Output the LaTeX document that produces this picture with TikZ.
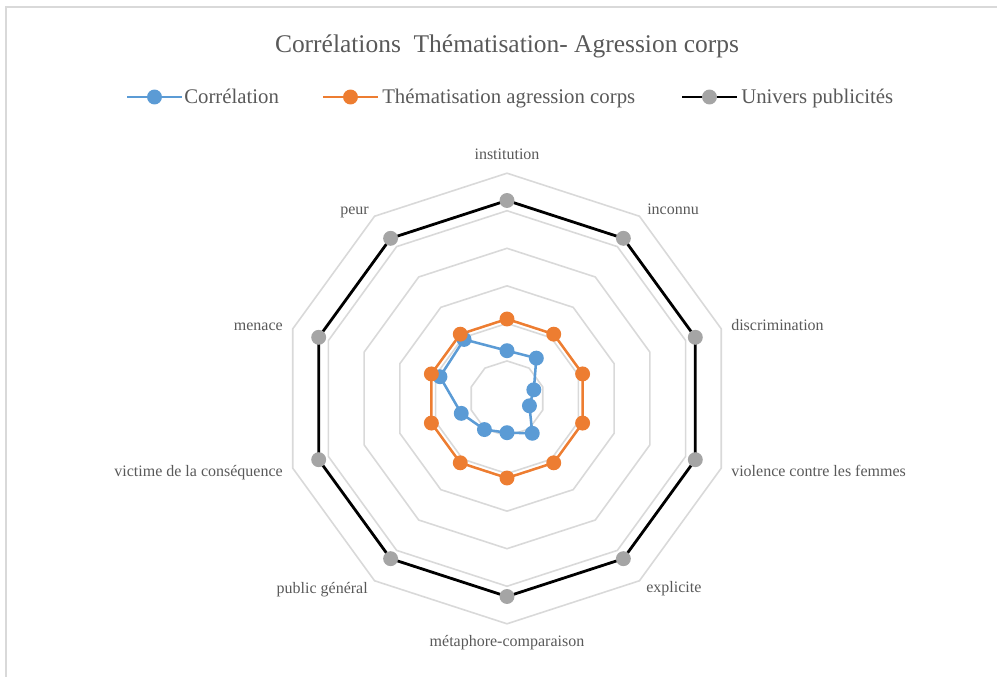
\documentclass[tikz,border=0pt]{standalone}
\usepackage{fontspec}
\setmainfont{Liberation Serif}
\usetikzlibrary{backgrounds}
\definecolor{txt}{HTML}{595959}
\definecolor{gridc}{HTML}{D9D9D9}
\definecolor{serA}{HTML}{5B9BD5}
\definecolor{serB}{HTML}{ED7D31}
\definecolor{serC}{HTML}{A5A5A5}
\begin{document}
\begin{tikzpicture}[x=0.75pt,y=-0.75pt,
  gridline/.style={draw=gridc,line width=1.2pt},
  mk/.style={circle,inner sep=0pt,minimum size=11.2pt},
  lineA/.style={draw=serA,line width=1.9pt,line join=round},
  lineB/.style={draw=serB,line width=1.9pt,line join=round},
  lineC/.style={draw=black,line width=2.1pt,line join=round},
  axlabel/.style={text=txt,font=\fontsize{12}{14}\selectfont,inner sep=0pt},
  legtext/.style={text=txt,font=\fontsize{15.6}{18}\selectfont,inner sep=0pt,anchor=base west}]
\useasboundingbox (0,0) rectangle (997,677);
\def\cx{507}\def\cy{398.5}
% frame
\draw[gridc,line width=1.5pt] (6,677) -- (6,7) -- (997,7);
% title
\node[text=txt,font=\fontsize{19.1}{22}\selectfont,inner sep=0pt,anchor=base] (title) at (507,52.5) {Corrélations\ \ Thématisation- Agression corps};
% legend
\coordinate (la1) at (127,97); \coordinate (la2) at (182,97);
\coordinate (lb1) at (323,97); \coordinate (lb2) at (378,97);
\coordinate (lc1) at (682,97); \coordinate (lc2) at (737,97);
\draw[lineA] (la1) -- (la2);
\draw[lineB] (lb1) -- (lb2);
\draw[lineC] (lc1) -- (lc2);
\node[mk,fill=serA] (lma) at (154.5,97) {};
\node[mk,fill=serB] (lmb) at (350.5,97) {};
\node[mk,fill=serC] (lmc) at (709.5,97) {};
\node[legtext] (lta) at (184,103.5) {Corrélation};
\node[legtext] (ltb) at (382,103.5) {Thématisation agression corps};
\node[legtext] (ltc) at (741,103.5) {Univers publicités};
% grid rings
\begin{scope}[on background layer]
\foreach \i in {1,...,6}{
  \draw[gridline] ({\cx},{\cy-37.55*\i}) \foreach \k in {1,...,9}{ -- ({\cx+37.55*\i*sin(36*\k)},{\cy-37.55*\i*cos(36*\k)})} -- cycle;
}
\end{scope}
% series markers
\foreach \r [count=\k from 0] in {47.8,49.9,28.2,23.6,43,34.2,38.4,48.1,70.5,73}{
  \node[mk,fill=serA] (a\k) at ({\cx+\r*sin(36*\k)},{\cy-\r*cos(36*\k)}) {};
}
\foreach \k in {0,...,9}{
  \node[mk,fill=serB] (b\k) at ({\cx+79.5*sin(36*\k)},{\cy-79.5*cos(36*\k)}) {};
}
\foreach \k in {0,...,9}{
  \node[mk,fill=serC] (c\k) at ({\cx+198*sin(36*\k)},{\cy-198*cos(36*\k)}) {};
}
\begin{scope}[on background layer]
\draw[lineA] (a0.center) -- (a1.center) -- (a2.center) -- (a3.center) -- (a4.center) -- (a5.center) -- (a6.center) -- (a7.center) -- (a8.center) -- (a9.center) -- cycle;
\draw[lineB] (b0.center) -- (b1.center) -- (b2.center) -- (b3.center) -- (b4.center) -- (b5.center) -- (b6.center) -- (b7.center) -- (b8.center) -- (b9.center) -- cycle;
\draw[lineC] (c0.center) -- (c1.center) -- (c2.center) -- (c3.center) -- (c4.center) -- (c5.center) -- (c6.center) -- (c7.center) -- (c8.center) -- (c9.center) -- cycle;
\end{scope}
% axis labels
\node[axlabel,anchor=base] (l0) at (507,160) {institution};
\node[axlabel,anchor=base west] (l1) at (647,215) {inconnu};
\node[axlabel,anchor=base west] (l2) at (731,331) {discrimination};
\node[axlabel,anchor=base west] (l3) at (731,476.5) {violence contre les femmes};
\node[axlabel,anchor=base west] (l4) at (646,592) {explicite};
\node[axlabel,anchor=base] (l5) at (507,646.5) {métaphore-comparaison};
\node[axlabel,anchor=base east] (l6) at (368,593) {public général};
\node[axlabel,anchor=base east] (l7) at (283,476.5) {victime de la conséquence};
\node[axlabel,anchor=base east] (l8) at (283,331) {menace};
\node[axlabel,anchor=base east] (l9) at (369,215) {peur};
\end{tikzpicture}
\end{document}
